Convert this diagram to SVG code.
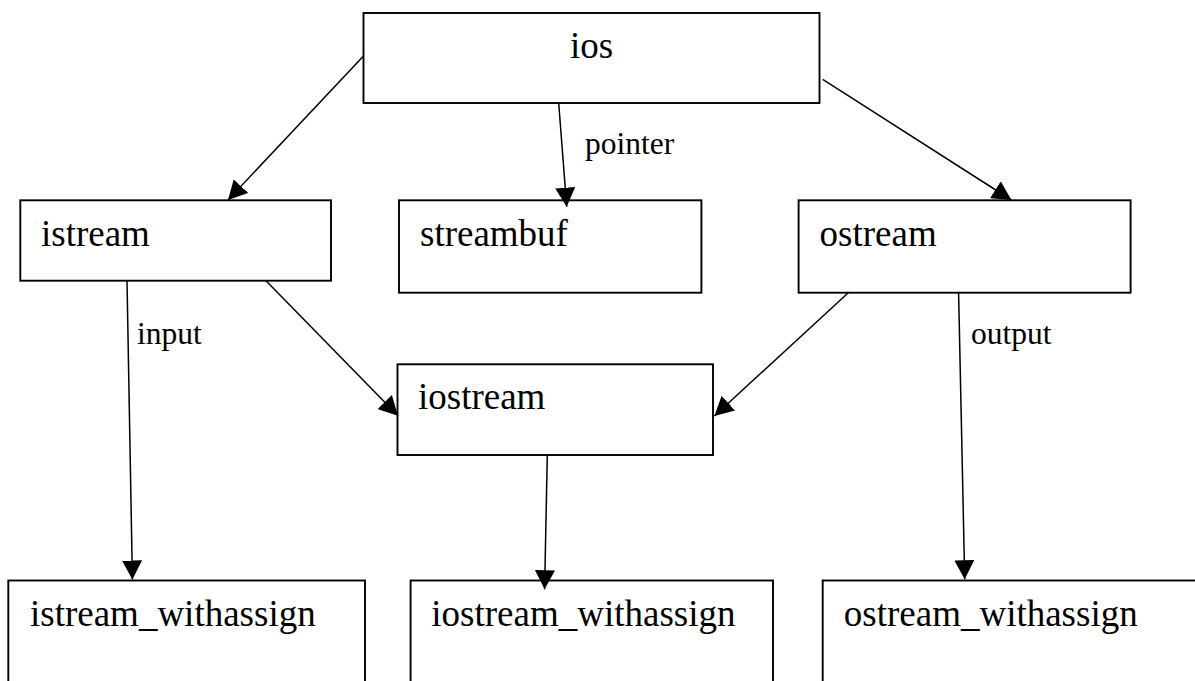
<svg xmlns="http://www.w3.org/2000/svg" width="1195" height="681" viewBox="0 0 1195 681">
<style>
.box{fill:#fff;stroke:#000;stroke-width:1.9}
.t{font-family:"Liberation Serif","Times New Roman",serif;font-size:37px;fill:#000}
.l{font-family:"Liberation Serif","Times New Roman",serif;font-size:31.5px;fill:#000}
.c{stroke:#000;stroke-width:1.5;fill:none;marker-end:url(#ah)}
</style>
<defs>
<marker id="ah" markerUnits="userSpaceOnUse" markerWidth="20" markerHeight="20" refX="19" refY="10" orient="auto">
<path d="M0,0 L19,10 L0,20 Z" fill="#000"/>
</marker>
</defs>
<rect width="1195" height="681" fill="#fff"/>
<g id="n-ios"><rect class="box" x="363.5" y="13" width="456" height="90"/><text class="t" x="570" y="58">ios</text></g>
<g id="n-istream"><rect class="box" x="20.3" y="200.3" width="310.7" height="80.4"/><text class="t" x="41" y="246">istream</text></g>
<g id="n-streambuf"><rect class="box" x="399" y="200.3" width="302.4" height="92.4"/><text class="t" x="420" y="246">streambuf</text></g>
<g id="n-ostream"><rect class="box" x="798.6" y="200.3" width="332" height="92.4"/><text class="t" x="819.6" y="246">ostream</text></g>
<g id="n-iostream"><rect class="box" x="397.5" y="364.3" width="315.5" height="90.7"/><text class="t" x="418" y="409">iostream</text></g>
<g id="n-istream_withassign"><rect class="box" x="8.3" y="580.5" width="356.7" height="120"/><text class="t" x="30" y="626">istream_withassign</text></g>
<g id="n-iostream_withassign"><rect class="box" x="410.6" y="580.5" width="362.4" height="120"/><text class="t" x="431.3" y="626">iostream_withassign</text></g>
<g id="n-ostream_withassign"><rect class="box" x="822.7" y="580.5" width="420" height="120"/><text class="t" x="843.8" y="626">ostream_withassign</text></g>
<g id="connectors">
<line class="c" x1="363.5" y1="56" x2="228" y2="200"/>
<line class="c" x1="558.7" y1="103" x2="566.7" y2="206.7"/>
<line class="c" x1="822.7" y1="79.3" x2="1011.4" y2="200"/>
<line class="c" x1="127" y1="280.7" x2="132.4" y2="579.5"/>
<line class="c" x1="266" y1="280.7" x2="398" y2="415.7"/>
<line class="c" x1="848.3" y1="292.7" x2="714.4" y2="416"/>
<line class="c" x1="958.6" y1="292.7" x2="964.7" y2="579.3"/>
<line class="c" x1="547.3" y1="455" x2="544.6" y2="589.3"/>
<text class="l" x="585" y="154">pointer</text>
<text class="l" x="137" y="344">input</text>
<text class="l" x="971" y="344">output</text>
</g>
</svg>
